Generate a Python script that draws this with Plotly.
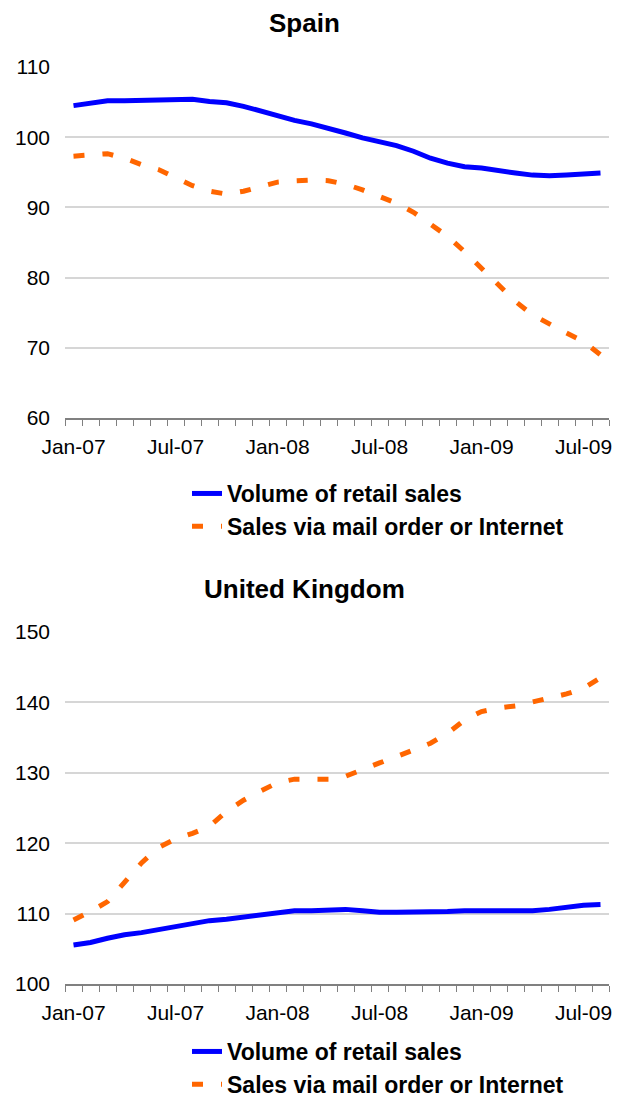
import plotly.graph_objects as go

months = ["Jan-07","Feb-07","Mar-07","Apr-07","May-07","Jun-07","Jul-07","Aug-07","Sep-07","Oct-07","Nov-07","Dec-07",
          "Jan-08","Feb-08","Mar-08","Apr-08","May-08","Jun-08","Jul-08","Aug-08","Sep-08","Oct-08","Nov-08","Dec-08",
          "Jan-09","Feb-09","Mar-09","Apr-09","May-09","Jun-09","Jul-09","Aug-09"]

spain_retail = [104.5, 104.9, 105.2, 105.2, 105.25, 105.4, 105.5, 105.4, 105.1, 104.9, 104.4, 103.7,
                103.0, 102.4, 101.9, 101.3, 100.6, 99.9, 99.4, 98.8, 98.0, 97.0, 96.3, 95.8,
                95.6, 95.2, 94.9, 94.6, 94.5, 94.6, 94.7, 94.9]
spain_mail = [97.3, 97.5, 97.65, 97.0, 96.1, 95.4, 94.3, 93.1, 92.3, 91.9, 92.3, 93.0,
              93.6, 93.8, 93.9, 93.8, 93.3, 92.5, 91.6, 90.6, 89.3, 87.7, 85.9, 83.7,
              81.4, 79.0, 76.6, 74.7, 73.3, 72.1, 70.9, 69.0]

uk_retail = [105.55, 105.9, 106.5, 107.0, 107.3, 107.7, 108.2, 108.6, 109.0, 109.2, 109.5, 109.8,
             110.1, 110.4, 110.4, 110.5, 110.6, 110.4, 110.2, 110.2, 110.2, 110.2, 110.3, 110.4,
             110.4, 110.3, 110.3, 110.4, 110.6, 110.9, 111.2, 111.3]
uk_mail = [109.1, 110.3, 111.7, 114.5, 117.2, 119.4, 120.6, 121.4, 122.4, 124.5, 126.1, 127.4,
           128.6, 129.1, 129.1, 129.1, 129.5, 130.5, 131.4, 132.3, 133.3, 134.2, 135.6, 137.5,
           138.7, 139.2, 139.5, 140.1, 140.6, 141.2, 142.0, 143.5]

series_names = ["Volume of retail sales", "Sales via mail order or Internet"]
titles = ["Spain", "United Kingdom"]

BLUE = "#0000FF"
ORANGE = "#FF6600"
FONT = "Liberation Sans, Arial, sans-serif"

W, H = 621, 1101
OFF = 8  # page body margin
ML = 65 - OFF
MR = W - (609 - OFF)
PW = W - ML - MR

x = list(range(len(months)))
label_idx = x[::6]

def px_x(p):
    return (p - OFF - ML) / PW

def px_y(p):
    return 1 - (p - OFF) / H

fig = go.Figure()

panels = [
    (spain_retail, spain_mail, "x", "y", "legend", [60, 110]),
    (uk_retail, uk_mail, "x2", "y2", "legend2", [100, 150]),
]

for retail, mail, xa, ya, leg, rng in panels:
    fig.add_trace(go.Scatter(x=x, y=retail, mode="lines", name=series_names[0],
                             line=dict(color=BLUE, width=5), xaxis=xa, yaxis=ya,
                             legend=leg, legendgroup=leg + "a"))
    fig.add_trace(go.Scatter(x=x, y=mail, mode="lines", name=series_names[1],
                             line=dict(color=ORANGE, width=5, dash="11px,18px"), xaxis=xa, yaxis=ya,
                             legend=leg, legendgroup=leg + "b"))

ydoms = [[px_y(418), px_y(67)], [px_y(984), px_y(632)]]

def xaxis_cfg(anchor):
    return dict(domain=[0, 1], anchor=anchor, range=[-0.5, len(months) - 0.5],
                tickmode="array", tickvals=label_idx, ticktext=[months[i] for i in label_idx],
                ticks="", showgrid=False, zeroline=False, automargin=False,
                showline=True, linecolor="#808080", linewidth=1.5,
                tickfont=dict(family=FONT, size=21, color="#000000"),
                ticklabelstandoff=9,
                minor=dict(tick0=-0.5, dtick=1, ticks="outside", ticklen=6,
                           tickcolor="#808080", tickwidth=1.2, showgrid=False))

def yaxis_cfg(anchor, dom, rng):
    return dict(domain=dom, anchor=anchor, range=rng, dtick=10, tick0=rng[0],
                showgrid=True, gridcolor="#d6d6d6", gridwidth=1.5, automargin=False,
                zeroline=False, showline=False, ticks="",
                tickfont=dict(family=FONT, size=21, color="#000000"),
                ticklabelstandoff=14)

legend_font = dict(family=FONT, size=23, color="#000000", weight="bold")

fig.update_layout(
    width=W, height=H, autosize=False,
    margin=dict(l=ML, r=MR, t=0, b=0, autoexpand=False),
    paper_bgcolor="white", plot_bgcolor="white",
    xaxis=xaxis_cfg("y"), yaxis=yaxis_cfg("x", ydoms[0], panels[0][5]),
    xaxis2=xaxis_cfg("y2"), yaxis2=yaxis_cfg("x2", ydoms[1], panels[1][5]),
    legend=dict(x=px_x(187), y=px_y(472), xanchor="left", yanchor="top",
                font=legend_font, bgcolor="rgba(0,0,0,0)", tracegroupgap=0, itemwidth=30),
    legend2=dict(x=px_x(187), y=px_y(1030), xanchor="left", yanchor="top",
                 font=legend_font, bgcolor="rgba(0,0,0,0)", tracegroupgap=0, itemwidth=30),
    showlegend=True,
    annotations=[
        dict(text="<b>" + titles[0] + "</b>", x=px_x(304), y=px_y(23), xref="paper", yref="paper",
             xanchor="center", yanchor="middle", showarrow=False,
             font=dict(family=FONT, size=26, color="#000000")),
        dict(text="<b>" + titles[1] + "</b>", x=px_x(304), y=px_y(589), xref="paper", yref="paper",
             xanchor="center", yanchor="middle", showarrow=False,
             font=dict(family=FONT, size=26, color="#000000")),
    ],
)

fig.write_html("out.html")
